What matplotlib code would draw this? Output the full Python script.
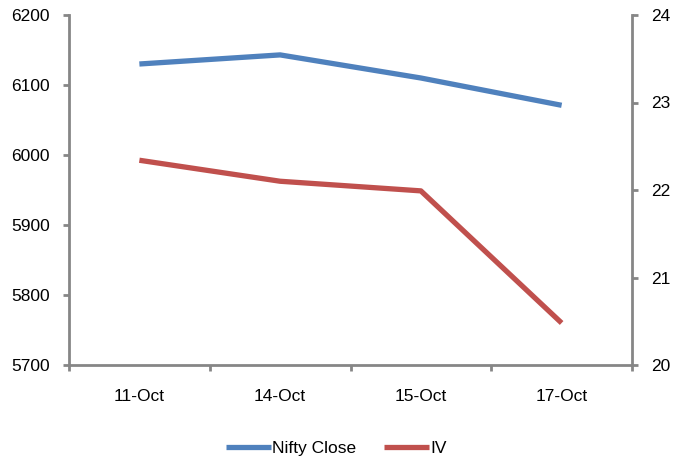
import matplotlib
matplotlib.use("Agg")
import matplotlib.pyplot as plt

plt.rcParams["font.family"] = ["Liberation Sans", "DejaVu Sans"]

dates = ["11-Oct", "14-Oct", "15-Oct", "17-Oct"]
nifty_close = [6130, 6143, 6110, 6071]
iv = [22.34, 22.10, 21.99, 20.48]

blue = "#4F81BD"
red = "#C0504D"
grey = "#868686"

fig = plt.figure(figsize=(6.73, 4.62), dpi=100)
ax = fig.add_axes([69 / 673, 1 - 365 / 462, (632 - 69) / 673, 350 / 462])
ax2 = ax.twinx()

x = list(range(len(dates)))
l1, = ax.plot(x, nifty_close, color=blue, lw=3.8, solid_capstyle="butt", label="Nifty Close")
l2, = ax2.plot(x, iv, color=red, lw=3.8, solid_capstyle="butt", label="IV")

ax.set_xlim(-0.5, len(dates) - 0.5)
ax.set_ylim(5700, 6200)
ax.set_yticks(range(5700, 6201, 100))
ax2.set_ylim(20, 24)
ax2.set_yticks(range(20, 25))

ax.set_xticks([i - 0.5 for i in range(len(dates) + 1)])
ax.set_xticklabels([])
ax.set_xticks(x, minor=True)
ax.set_xticklabels(dates, minor=True)
ax.tick_params(axis="x", which="minor", length=0, pad=17, labelsize=12.5)
ax.tick_params(axis="x", which="major", length=4, color=grey, width=2)

for a in (ax, ax2):
    for s in a.spines.values():
        s.set_visible(False)
ax.spines["left"].set_visible(True)
ax.spines["bottom"].set_visible(True)
ax2.spines["right"].set_visible(True)
for s in (ax.spines["left"], ax.spines["bottom"], ax2.spines["right"]):
    s.set_color(grey)
    s.set_linewidth(2)

ax.tick_params(axis="y", length=4, color=grey, width=2, labelsize=12.5, pad=10)
ax2.tick_params(axis="y", length=4, color=grey, width=2, labelsize=12.5, pad=10)

fig.legend(handles=[l1, l2], loc="center", bbox_to_anchor=(0.5, 1 - 448 / 462), ncol=2,
           frameon=False, fontsize=12.5, handlelength=2.6, handletextpad=0.05, columnspacing=1.6)

fig.savefig("out.png", dpi=100)
